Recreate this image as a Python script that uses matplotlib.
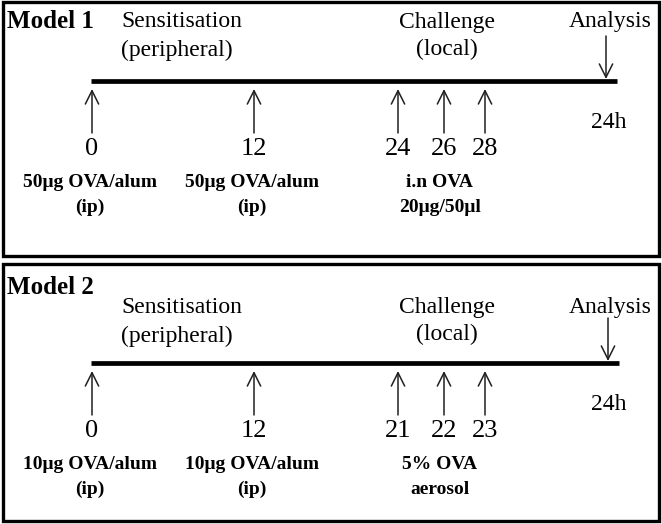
import matplotlib
matplotlib.use("Agg")
import matplotlib.pyplot as plt
from matplotlib.patches import Rectangle

# ---- data ----
models = ["Model 1", "Model 2"]
phase_labels = ["Sensitisation\n(peripheral)", "Challenge\n(local)", "Analysis"]
analysis_time = "24h"
days_model1 = ["0", "12", "24", "26", "28"]
days_model2 = ["0", "12", "21", "22", "23"]
sens_label_model1 = "50\u03bcg OVA/alum\n(ip)"
sens_label_model2 = "10\u03bcg OVA/alum\n(ip)"
chal_label_model1 = "i.n OVA\n20\u03bcg/50\u03bcl"
chal_label_model2 = "5% OVA\naerosol"

# ---- layout (pixel coordinates) ----
arrow_x = [92, 254, 398, 444, 485]
panel_y0 = [2, 264]
panel_h = [254, 257]

fig = plt.figure(figsize=(6.62, 5.24), dpi=100)
ax = fig.add_axes([0, 0, 1, 1])
ax.set_xlim(0, 662)
ax.set_ylim(524, 0)
ax.axis("off")

serif = "Liberation Serif"
arrow_col = "#202020"

panels = [
    (days_model1, sens_label_model1, chal_label_model1),
    (days_model2, sens_label_model2, chal_label_model2),
]

for i, (days, sens_lab, chal_lab) in enumerate(panels):
    y0 = panel_y0[i]
    ax.add_patch(Rectangle((2.5, y0), 656, panel_h[i], fill=False,
                           lw=2.4, edgecolor="black"))
    # title
    ax.text(7, 22 if i == 0 else 287, models[i], fontsize=18, fontweight="bold",
            family=serif, ha="left", va="center")
    line_y = 81 if i == 0 else 363
    # phase labels
    ax.text(121, (36 if i == 0 else 322), phase_labels[0], fontsize=17, family=serif,
            ha="left", va="center", linespacing=1.45)
    ax.text(447, (36 if i == 0 else 321), phase_labels[1], fontsize=17, family=serif,
            ha="center", va="center", linespacing=1.4)
    ax.text(610, (22 if i == 0 else 307), phase_labels[2], fontsize=17, family=serif,
            ha="center", va="center")
    # timeline
    x_end = 617 if i == 0 else 619
    ax.plot([91, x_end], [line_y, line_y], color="black", lw=3.4,
            solid_capstyle="butt")
    # analysis arrow
    ax_x = 606 if i == 0 else 608
    ax.annotate("", xy=(ax_x, line_y - 2), xytext=(ax_x, line_y - 45),
                arrowprops=dict(arrowstyle="->", lw=1.1, color=arrow_col,
                                mutation_scale=24, shrinkA=0, shrinkB=0))
    ax.text(609, line_y + 42, analysis_time, fontsize=17, family=serif,
            ha="center", va="center")
    # day arrows and labels
    for x, d in zip(arrow_x, days):
        ax.annotate("", xy=(x, line_y + 8), xytext=(x, line_y + 52),
                    arrowprops=dict(arrowstyle="->", lw=1.1, color=arrow_col,
                                    mutation_scale=24, shrinkA=0, shrinkB=0))
        ax.text(x, line_y + 68, d, fontsize=19, family=serif,
                ha="center", va="center")
    # substance labels
    for x in arrow_x[:2]:
        ax.text(x - 2, line_y + 114, sens_lab, fontsize=14, fontweight="bold",
                family=serif, ha="center", va="center", linespacing=1.6)
    ax.text(440, line_y + 114, chal_lab, fontsize=14, fontweight="bold",
            family=serif, ha="center", va="center", linespacing=1.6)

fig.savefig("out.png", dpi=100)
